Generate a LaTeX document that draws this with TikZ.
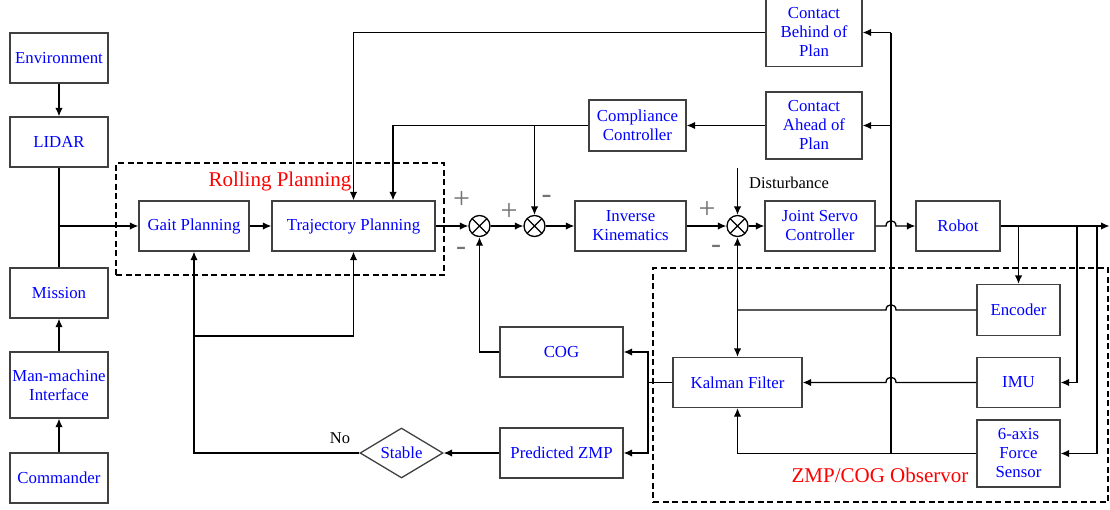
\documentclass[tikz,border=0pt]{standalone}
\usepackage{fontspec}
\setmainfont{Liberation Serif}
\usetikzlibrary{arrows.meta,shapes.geometric,calc}
\begin{document}
\begin{tikzpicture}[x=1pt,y=-1pt,
  blk/.style={draw=black!75, line width=1.3pt, text=blue, align=center,
    font=\fontsize{16.8}{19}\selectfont, inner sep=1pt, minimum height=50pt},
  sumj/.style={circle, draw=black, line width=1.3pt, minimum size=21pt, inner sep=0pt,
    path picture={\draw[line width=1.2pt] (path picture bounding box.south west) -- (path picture bounding box.north east)
      (path picture bounding box.north west) -- (path picture bounding box.south east);}},
  ln/.style={line width=1.3pt, draw=black},
  arr/.style={ln, -{Latex[length=8.5pt,width=7.5pt]}},
  grp/.style={draw=black, line width=2.4pt, dash pattern=on 6pt off 3.5pt, inner sep=0pt},
  sgn/.style={text=black!55, font=\fontsize{30}{30}\selectfont, inner sep=0pt},
  lbl/.style={text=red, font=\fontsize{21}{23}\selectfont, inner sep=0pt},
  plain/.style={text=black, font=\fontsize{16.5}{18}\selectfont, inner sep=0pt}
]
\useasboundingbox (0,0) rectangle (1110,509);

% group boxes
\node[grp, minimum width=328pt, minimum height=112pt] (rollbox) at (280,219) {};
\node[grp, minimum width=455pt, minimum height=234pt] (obsbox) at (880.5,385) {};
\node[lbl] (rolllbl) at (280,181) {Rolling Planning};
\node[lbl] (obslbl) at (880,475) {ZMP/COG Observor};

% left column
\node[blk, minimum width=98pt] (env) at (59,58) {Environment};
\node[blk, minimum width=98pt] (lidar) at (59,142) {LIDAR};
\node[blk, minimum width=98pt] (mission) at (59,293) {Mission};
\node[blk, minimum width=98pt, minimum height=66pt] (mmi) at (59,385) {Man-machine\\Interface};
\node[blk, minimum width=98pt] (cmd) at (59,478) {Commander};

% main chain
\node[blk, minimum width=110pt] (gait) at (194,226) {Gait Planning};
\node[blk, minimum width=163pt] (traj) at (353.5,226) {Trajectory Planning};
\node[sumj] (s1) at (479.5,226) {};
\node[sumj] (s2) at (534.5,226) {};
\node[blk, minimum width=111pt] (ik) at (630.5,226) {Inverse\\Kinematics};
\node[sumj] (s3) at (737.5,226) {};
\node[blk, minimum width=110pt] (servo) at (820,226) {Joint Servo\\Controller};
\node[blk, minimum width=84pt] (robot) at (958,226) {Robot};

% upper boxes
\node[blk, minimum width=97pt, minimum height=51pt] (compl) at (637.5,125.5) {Compliance\\Controller};
\node[blk, minimum width=96pt, minimum height=68pt] (behind) at (814,32.5) {Contact\\Behind of\\Plan};
\node[blk, minimum width=96pt, minimum height=67pt] (ahead) at (814,125.5) {Contact\\Ahead of\\Plan};

% observer boxes
\node[blk, minimum width=83pt, minimum height=51pt] (encoder) at (1018.5,310) {Encoder};
\node[blk, minimum width=83pt] (imu) at (1018.5,382.5) {IMU};
\node[blk, minimum width=83pt, minimum height=67pt] (force) at (1018.5,453.5) {6-axis\\Force\\Sensor};
\node[blk, minimum width=129pt] (kalman) at (737.5,382.5) {Kalman Filter};

% lower boxes
\node[blk, minimum width=123pt] (cog) at (561.5,352) {COG};
\node[blk, minimum width=123pt] (pzmp) at (561.5,453) {Predicted ZMP};
\node[diamond, draw=black!75, line width=1.3pt, text=blue, font=\fontsize{16.8}{19}\selectfont,
  aspect=1.66, inner sep=0pt, minimum width=83pt, minimum height=50pt] (stable) at (401.5,453) {Stable};

% signs
\node[sgn] (p1) at (461.5,200) {+};
\node[sgn] (m1) at (461,251) {-};
\node[sgn] (p2) at (509,212) {+};
\node[sgn] (m2) at (546.5,199) {-};
\node[sgn] (p3) at (707,210.5) {+};
\node[sgn] (m3) at (716,249) {-};

% texts
\node[plain] (dist) at (789,183) {Disturbance};
\node[plain] (no) at (340,438) {No};

% coordinates
\coordinate (lj) at (59,226);
\coordinate (dtop) at (737.5,168);
\coordinate (vtop) at (891,32.5);
\coordinate (vbot) at (891,453.5);
\coordinate (vah) at (891,125.5);
\coordinate (cj) at (534.5,125.5);
\coordinate (ej) at (737.5,310);
\coordinate (kj) at (648,382.5);
\coordinate (gj) at (194,336);
\coordinate (rb1) at (1018.5,226);
\coordinate (rb2) at (1077,226);
\coordinate (rb3) at (1097,226);
\coordinate (rout) at (1109.5,226);

% left column connectors
\draw[arr] (env) -- (lidar);
\draw[ln] (lidar) -- (mission);
\draw[arr] (cmd) -- (mmi);
\draw[arr] (mmi) -- (mission);
\draw[arr] (lj) -- (gait);

% main chain connectors
\draw[arr] (gait) -- (traj);
\draw[arr] (traj) -- (s1);
\draw[arr] (s1) -- (s2);
\draw[arr] (s2) -- (ik);
\draw[arr] (ik) -- (s3);
\draw[arr] (s3) -- (servo);
\draw[arr] (servo.east) -- (886,226) .. controls (886,219) and (896,219) .. (896,226) -- (robot.west);
\draw[arr] (robot.east) -- (rout);
\draw[arr] (rb1) -- (encoder.north);
\draw[arr] (rb2) |- (imu.east);
\draw[arr] (rb3) |- (force.east);

% upper connectors
\draw[arr] (behind.west) -| (traj.north);
\draw[arr] (ahead) -- (compl);
\draw[arr] (compl.west) -| ([xshift=39.5pt]traj.north);
\draw[arr] (cj) -- (s2.north);
\draw[arr] (dtop) -- (s3.north);
\draw[ln] (vbot) -- (vtop);
\draw[arr] (vtop) -- (behind.east);
\draw[arr] (vah) -- (ahead.east);

% observer connectors
\draw[ln] (encoder.west) -- (896,310) .. controls (896,303) and (886,303) .. (886,310) -- (ej);
\draw[arr] (ej) -- (s3.south);
\draw[arr] (ej) -- (kalman.north);
\draw[arr] (imu.west) -- (896,382.5) .. controls (896,375.5) and (886,375.5) .. (886,382.5) -- (kalman.east);
\draw[arr] (force.west) -| (kalman.south);

% lower connectors
\draw[ln] (kalman.west) -- (kj);
\draw[arr] (kj) |- (cog.east);
\draw[arr] (kj) |- (pzmp.east);
\draw[arr] (pzmp) -- (stable);
\draw[arr] (cog.west) -| (s1.south);
\draw[arr] (stable.west) -| (gait.south);
\draw[arr] (gj) -| (traj.south);
\end{tikzpicture}
\end{document}
